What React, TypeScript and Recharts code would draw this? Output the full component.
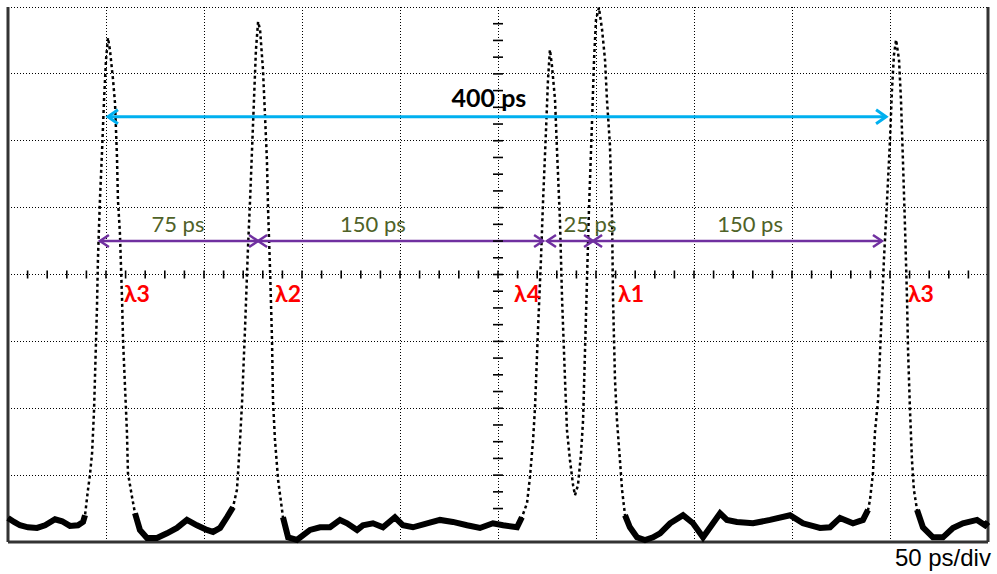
import {
  ComposedChart,
  Line,
  Scatter,
  XAxis,
  YAxis,
  CartesianGrid,
  ReferenceLine,
  ReferenceDot,
} from 'recharts'

// scope trace: time in ps (50 ps/div), level in screen divisions (0..8)
const TRACE: [number, number][] = [
  [0, 0.36], [3.1, 0.3], [6.1, 0.25], [10.2, 0.22], [14.8, 0.21], [18.9, 0.25], [24.0, 0.34], [27.6, 0.31], [31.6, 0.24], [35.7, 0.25], [38.3, 0.3],
  [39.3, 0.4], [40.8, 0.78], [41.8, 1.0], [42.9, 1.33], [43.9, 1.97], [45.4, 3.51], [45.9, 4.25], [46.9, 5.11], [48.0, 5.86], [49.0, 6.61], [50.0, 7.21], [51.0, 7.54],
  [52.0, 7.36], [53.6, 6.91], [54.6, 6.56], [55.6, 5.76], [56.1, 5.11], [57.1, 4.62], [58.2, 3.62], [58.7, 3.02], [59.7, 2.32], [60.7, 1.63], [61.2, 1.03], [63.3, 0.67], [64.8, 0.43],
  [67.3, 0.18], [70.9, 0.06], [76.0, 0.06], [81.1, 0.13], [86.2, 0.21], [91.3, 0.33], [96.4, 0.25], [101.5, 0.18], [104.6, 0.15], [108.2, 0.21], [111.7, 0.37], [114.8, 0.52],
  [116.8, 0.78], [117.3, 1.0], [118.4, 1.53], [119.4, 2.08], [120.9, 3.17], [122.4, 4.37], [123.5, 5.11], [124.5, 5.86], [125.5, 6.61], [126.5, 7.36], [127.6, 7.78],
  [128.6, 7.66], [130.1, 7.06], [131.1, 6.39], [132.1, 5.71], [132.7, 4.96], [133.7, 4.07], [134.7, 3.02], [135.2, 2.12], [136.2, 1.53], [137.8, 0.93], [140.3, 0.37],
  [142.9, 0.07], [147.4, 0.03], [154.1, 0.18], [159.2, 0.22], [164.3, 0.22], [169.4, 0.33], [173.0, 0.28], [178.1, 0.18], [181.1, 0.25], [186.2, 0.28], [191.3, 0.22],
  [197.4, 0.37], [201.5, 0.25], [206.6, 0.22], [213.8, 0.28], [220.4, 0.33], [227.0, 0.3], [234.2, 0.25], [240.8, 0.21], [247.4, 0.28], [252.6, 0.25], [259.7, 0.22], [262.2, 0.37],
  [264.8, 0.58], [266.3, 0.97], [267.9, 1.53], [268.9, 2.02], [270.4, 3.17], [271.9, 4.22], [273.0, 5.11], [274.5, 6.16], [275.5, 6.91], [276.5, 7.36],
  [277.5, 7.13], [279.1, 6.61], [280.1, 5.86], [281.6, 4.81], [282.7, 3.62], [284.2, 2.42], [285.2, 1.67], [286.7, 1.23], [288.3, 0.85], [289.3, 0.7],
  [290.8, 0.85], [292.3, 1.3], [293.4, 1.82], [294.4, 2.87], [295.4, 3.92], [296.4, 4.96], [298.0, 6.31], [299.0, 7.21], [300.0, 7.81], [301.5, 7.99],
  [303.1, 7.66], [304.6, 7.21], [305.6, 6.61], [307.1, 5.94], [308.2, 4.81], [308.7, 3.62], [309.7, 2.42], [310.7, 1.82], [312.2, 1.23], [313.3, 0.78], [314.8, 0.4],
  [317.3, 0.22], [320.9, 0.07], [325.0, 0.03], [329.1, 0.07], [332.7, 0.13], [337.8, 0.28], [344.4, 0.4], [349.5, 0.28], [354.6, 0.07], [359.7, 0.28], [363.3, 0.43],
  [366.8, 0.33], [371.9, 0.3], [380.1, 0.28], [388.8, 0.33], [399.0, 0.4], [405.6, 0.28], [414.3, 0.21], [419.4, 0.22], [424.5, 0.36], [431.1, 0.28], [436.2, 0.33], [438.8, 0.48],
  [439.8, 0.63], [441.3, 1.03], [442.3, 1.63], [443.9, 2.12], [445.4, 3.17], [446.9, 4.22], [448.5, 5.11], [450.0, 6.01], [451.0, 6.76], [452.0, 7.28], [453.1, 7.51],
  [454.6, 7.21], [455.6, 6.61], [456.6, 5.71], [457.7, 4.67], [458.7, 3.62], [459.2, 2.87], [460.2, 1.97], [461.2, 1.23], [462.2, 0.78], [463.8, 0.48],
  [466.8, 0.22], [471.9, 0.07], [477.0, 0.07], [482.1, 0.21], [487.2, 0.28], [494.4, 0.33], [498.5, 0.25], [500.0, 0.3],
]

const GRID_TIME_PS = [50, 100, 150, 200, 250, 300, 350, 400, 450]
const GRID_LEVEL_DIV = [1, 2, 3, 4, 5, 6, 7]

// minor ticks on the centre cross-hair
const MINOR_TIME_PS = [
  10, 20, 30, 40, 50, 60, 70, 80, 90, 100, 110, 120, 130, 140, 150, 160, 170, 180, 190, 200,
  210, 220, 230, 240, 250, 260, 270, 280, 290, 300, 310, 320, 330, 340, 350, 360, 370, 380, 390, 400,
  410, 420, 430, 440, 450, 460, 470, 480, 490,
]
const MINOR_LEVEL_DIV = [
  0.25, 0.5, 0.75, 1, 1.25, 1.5, 1.75, 2, 2.25, 2.5, 2.75, 3, 3.25, 3.5, 3.75, 4,
  4.25, 4.5, 4.75, 5, 5.25, 5.5, 5.75, 6, 6.25, 6.5, 6.75, 7, 7.25, 7.5, 7.75,
]

// annotations (ps, div)
const PERIOD = { from: 51.0, to: 448.0, level: 6.36, label: '400 ps', labelAt: 245.4, labelLevel: 6.65 }
const SPAN_LEVEL = 4.5
const SPAN_LABEL_LEVEL = 4.76
const SPAN_FROM = [46.9, 127.6, 275.0, 298.5]
const SPAN_TO = [127.6, 273.0, 298.5, 445.9]
const SPAN_LABELS = ['75 ps', '150 ps', '25 ps', '150 ps']
const SPAN_LABEL_AT = [86.7, 186.2, 296.9, 378.6]

const LAMBDA_LABELS = ['λ3', 'λ2', 'λ4', 'λ1', 'λ3']
const LAMBDA_AT = [65.8, 142.9, 264.8, 317.9, 465.8]
const LAMBDA_LEVEL = 3.72

const chartData = TRACE.map(([t, v]) => ({ t, v, floor: v < 0.55 ? v : null }))
const hTicks = MINOR_TIME_PS.map((t) => ({ t, v: 4 }))
const vTicks = MINOR_LEVEL_DIV.map((v) => ({ t: 250, v }))

const LABEL_FONT = "Lato, 'Open Sans', 'Noto Sans', sans-serif"

function arrowShape(color: string, width: number, head: number, spread: number) {
  return (p: any) => {
    const { x1, y1, x2, y2 } = p
    return (
      <g>
        <line x1={x1} y1={y1} x2={x2} y2={y2} stroke={color} strokeWidth={width} />
        <polyline
          points={`${x1 + head},${y1 - spread} ${x1},${y1} ${x1 + head},${y1 + spread}`}
          fill="none"
          stroke={color}
          strokeWidth={width}
        />
        <polyline
          points={`${x2 - head},${y2 - spread} ${x2},${y2} ${x2 - head},${y2 + spread}`}
          fill="none"
          stroke={color}
          strokeWidth={width}
        />
      </g>
    )
  }
}

function textLabel(value: string, style: Record<string, any>) {
  return {
    content: ({ viewBox }: any) => (
      <text
        x={viewBox.x + viewBox.width / 2}
        y={viewBox.y + viewBox.height / 2}
        textAnchor="middle"
        dominantBaseline="central"
        {...style}
      >
        {value}
      </text>
    ),
  }
}

export default function App() {
  return (
    <div style={{ position: 'absolute', left: 0, top: 0, width: 997, height: 574, background: '#fff' }}>
      <ComposedChart
        width={997}
        height={574}
        data={chartData}
        margin={{ top: 7, right: 9, bottom: 32, left: 8 }}
      >
        <XAxis type="number" dataKey="t" domain={[0, 500]} ticks={GRID_TIME_PS} hide />
        <YAxis type="number" domain={[0, 8]} ticks={GRID_LEVEL_DIV} hide />
        <CartesianGrid stroke="#000" strokeDasharray="1 2" shapeRendering="crispEdges" />

        {/* frame: left, right, bottom */}
        <ReferenceLine x={0} stroke="#333" strokeWidth={3} />
        <ReferenceLine x={500} stroke="#333" strokeWidth={3} />
        <ReferenceLine y={0} stroke="#333" strokeWidth={3} />

        <Scatter
          data={hTicks}
          dataKey="v"
          isAnimationActive={false}
          shape={(p: any) => (
            <line x1={p.cx} y1={p.cy - 4} x2={p.cx} y2={p.cy + 4} stroke="#000" strokeWidth={1.6} />
          )}
        />
        <Scatter
          data={vTicks}
          dataKey="v"
          isAnimationActive={false}
          shape={(p: any) => (
            <line x1={p.cx - 5} y1={p.cy} x2={p.cx + 5} y2={p.cy} stroke="#000" strokeWidth={1.6} />
          )}
        />

        <Line
          dataKey="v"
          stroke="#000"
          strokeWidth={2.5}
          strokeDasharray="3 3"
          dot={false}
          isAnimationActive={false}
        />
        <Line
          dataKey="floor"
          stroke="#000"
          strokeWidth={6}
          dot={false}
          connectNulls={false}
          isAnimationActive={false}
        />

        <ReferenceLine
          segment={[{ x: PERIOD.from, y: PERIOD.level }, { x: PERIOD.to, y: PERIOD.level }]}
          shape={arrowShape('#00b0f0', 3, 10, 7)}
        />
        <ReferenceDot
          x={PERIOD.labelAt}
          y={PERIOD.labelLevel}
          r={0}
          stroke="none"
          label={textLabel(PERIOD.label, { fill: '#000', fontSize: 25, fontWeight: 700, fontFamily: LABEL_FONT })}
        />

        {SPAN_FROM.map((from, i) => (
          <ReferenceLine
            key={`span-${i}`}
            segment={[{ x: from, y: SPAN_LEVEL }, { x: SPAN_TO[i], y: SPAN_LEVEL }]}
            shape={arrowShape('#7030a0', 2.5, 9, 6)}
          />
        ))}
        {SPAN_LABELS.map((label, i) => (
          <ReferenceDot
            key={`span-label-${i}`}
            x={SPAN_LABEL_AT[i]}
            y={SPAN_LABEL_LEVEL}
            r={0}
            stroke="none"
            label={textLabel(label, { fill: '#4f6228', fontSize: 22, fontFamily: LABEL_FONT })}
          />
        ))}

        {LAMBDA_LABELS.map((label, i) => (
          <ReferenceDot
            key={`lambda-${i}`}
            x={LAMBDA_AT[i]}
            y={LAMBDA_LEVEL}
            r={0}
            stroke="none"
            label={textLabel(label, { fill: '#ff0000', fontSize: 23, fontWeight: 700, fontFamily: LABEL_FONT })}
          />
        ))}

        <ReferenceDot
          x={477}
          y={-0.23}
          r={0}
          stroke="none"
          ifOverflow="visible"
          label={textLabel('50 ps/div', { fill: '#000', fontSize: 24, fontFamily: "'Liberation Sans', Arial, sans-serif" })}
        />
      </ComposedChart>
    </div>
  )
}
